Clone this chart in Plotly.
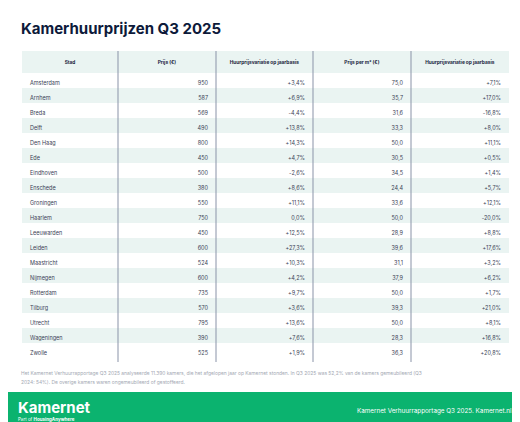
import plotly.graph_objects as go

steden = ['Amsterdam', 'Arnhem', 'Breda', 'Delft', 'Den Haag', 'Ede', 'Eindhoven', 'Enschede',
          'Groningen', 'Haarlem', 'Leeuwarden', 'Leiden', 'Maastricht', 'Nijmegen', 'Rotterdam',
          'Tilburg', 'Utrecht', 'Wageningen', 'Zwolle']
prijs = [950, 587, 569, 490, 800, 450, 500, 380, 550, 750, 450, 600, 524, 600, 735, 570, 795, 390, 525]
variatie_prijs = ['+3,4%', '+6,9%', '-4,4%', '+13,8%', '+14,3%', '+4,7%', '-2,6%', '+8,6%', '+11,1%', '0,0%',
                  '+12,5%', '+27,3%', '+10,3%', '+4,2%', '+9,7%', '+3,6%', '+13,6%', '+7,6%', '+1,9%']
prijs_m2 = ['75,0', '35,7', '31,6', '33,3', '50,0', '30,5', '34,5', '24,4', '33,6', '50,0',
            '28,9', '39,6', '31,1', '37,9', '50,0', '39,3', '50,0', '28,3', '36,3']
variatie_m2 = ['+7,1%', '+17,0%', '-16,8%', '+8,0%', '+11,1%', '+0,5%', '+1,4%', '+5,7%', '+12,1%', '-20,0%',
               '+8,8%', '+17,6%', '+3,2%', '+6,2%', '+1,7%', '+21,0%', '+8,1%', '+16,8%', '+20,8%']
kolommen = ['Stad', 'Prijs (€)', 'Huurprijsvariatie op jaarbasis', 'Prijs per m² (€)', 'Huurprijsvariatie op jaarbasis']

W, H = 520, 422
NAVY = '#1b2540'
fills = ['#ffffff' if i % 2 == 0 else '#eaf4f2' for i in range(len(steden))]
FONT = 'Inter, Noto Sans, sans-serif'

fig = go.Figure(go.Table(
    domain=dict(x=[14 / W, 501 / W], y=[1 - 360 / H, 1 - 43 / H]),
    columnwidth=[96, 98, 97, 98, 98],
    header=dict(values=['<b>%s</b>' % k for k in kolommen], fill_color='#eaf4f2',
                line=dict(width=0), align='center', height=16,
                font=dict(family=FONT, size=4.8, color=NAVY)),
    cells=dict(values=[steden, prijs, variatie_prijs, prijs_m2, variatie_m2],
               fill_color=[fills] * 5, line=dict(width=0),
               align=['left', 'right', 'right', 'right', 'right'], height=15,
               font=dict(family=FONT, size=5.5, color='#3a4256')),
))

# vertical column separators
for x in [110, 208, 305, 403]:
    fig.add_shape(type='line', xref='paper', yref='paper', x0=x / W, x1=x / W,
                  y0=1 - 354 / H, y1=1 - 43 / H, line=dict(color='#8a93a8', width=1))

# green footer band
fig.add_shape(type='rect', xref='paper', yref='paper', x0=0, x1=1, y0=0, y1=1 - 384 / H,
              fillcolor='#0bb36f', line=dict(width=0), layer='below')

notities = [
    dict(x=12, y=20, text='<b>Kamerhuurprijzen Q3 2025</b>', size=15, color='#0d1a3a'),
    dict(x=12, y=365, text='Het Kamernet Verhuurrapportage Q3 2025 analyseerde 11.390 kamers, die het afgelopen jaar op Kamernet stonden. In Q3 2025 was 52,2% van de kamers gemeubileerd (Q3',
         size=4.9, color='#a3a8b3'),
    dict(x=12, y=374, text='2024: 54%). De overige kamers waren ongemeubileerd of gestoffeerd.', size=4.9, color='#a3a8b3'),
    dict(x=9, y=399, text='<b>Kamernet</b>', size=15, color='white'),
    dict(x=9, y=411, text='Part of <b>HousingAnywhere</b>', size=4.5, color='white'),
]
for n in notities:
    fig.add_annotation(x=n['x'] / W, y=1 - n['y'] / H, xref='paper', yref='paper', text=n['text'],
                       showarrow=False, xanchor='left', yanchor='middle', borderpad=0,
                       font=dict(family=FONT, size=n['size'], color=n['color']))
fig.add_annotation(x=506 / W, y=1 - 403 / H, xref='paper', yref='paper',
                   text='Kamernet Verhuurrapportage Q3 2025. Kamernet.nl', showarrow=False,
                   xanchor='right', yanchor='middle', font=dict(family=FONT, size=6.3, color='white'))

fig.update_layout(width=W, height=H, margin=dict(l=0, r=0, t=0, b=0),
                  paper_bgcolor='white', plot_bgcolor='white')
fig.write_html('out.html')
